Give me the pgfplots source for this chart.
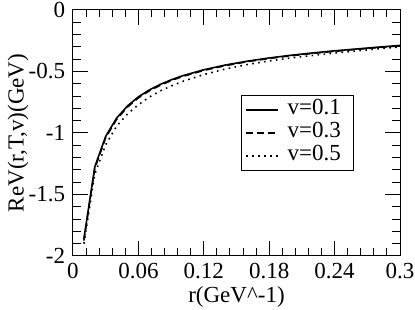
\documentclass[border=0pt]{standalone}
\usepackage{fontspec}
\setmainfont{Liberation Serif}
\usepackage{pgfplots}
\pgfplotsset{compat=1.18}
\begin{document}
\fontsize{23}{27}\selectfont
\begin{tikzpicture}
\useasboundingbox (-73pt,-54pt) rectangle (342pt,256pt);
\begin{axis}[
  scale only axis, width=327pt, height=246pt,
  xmin=0, xmax=0.3, ymin=-2, ymax=0,
  xtick={0,0.06,0.12,0.18,0.24,0.3},
  xticklabels={0,0.06,0.12,0.18,0.24,0.3},
  ytick={-2,-1.5,-1,-0.5,0},
  yticklabels={-2,-1.5,-1,-0.5,0},
  minor x tick num=4, minor y tick num=4,
  tick align=inside,
  major tick length=15pt, minor tick length=7.5pt,
  every tick/.style={black, line width=1pt},
  axis line style={line width=1pt},
  tick label style={font=\fontsize{23}{27}\selectfont},
  xticklabel style={yshift=1pt},
  label style={font=\fontsize{23}{27}\selectfont},
  xlabel={r(GeV\textasciicircum-1)},
  ylabel={ReV(r,T,v)(GeV)},
  xlabel style={at={(axis description cs:0.5,-0.167)}, anchor=center},
  ylabel style={at={(axis description cs:-0.168,0.5)}, anchor=center},
  legend style={at={(0.514,0.655)}, anchor=north west, draw=black, line width=1pt,
    font=\fontsize{23}{27}\selectfont, inner xsep=4pt, inner ysep=3pt, row sep=0pt,
    nodes={inner xsep=8.5pt, inner ysep=1pt, text height=15pt, text depth=6pt}},
  legend cell align=left,
  legend image code/.code={\draw[#1] (0pt,0pt) -- (32pt,0pt);},
]
\addplot[black, line width=1.6pt] coordinates {
(0.01,-1.86) (0.02,-1.275) (0.03,-1.027) (0.04,-0.879) (0.05,-0.780)
(0.06,-0.706) (0.07,-0.650) (0.08,-0.605) (0.09,-0.568) (0.10,-0.536)
(0.12,-0.486) (0.14,-0.447) (0.16,-0.416) (0.18,-0.390) (0.20,-0.368)
(0.22,-0.349) (0.24,-0.332) (0.26,-0.317) (0.28,-0.302) (0.30,-0.288)
};
\addlegendentry{v=0.1}
\addplot[black, line width=1.6pt, dash pattern=on 7pt off 4pt] coordinates {
(0.01,-1.875) (0.02,-1.287) (0.03,-1.038) (0.04,-0.889) (0.05,-0.789)
(0.06,-0.714) (0.07,-0.657) (0.08,-0.612) (0.09,-0.574) (0.10,-0.542)
(0.12,-0.491) (0.14,-0.452) (0.16,-0.420) (0.18,-0.394) (0.20,-0.372)
(0.22,-0.353) (0.24,-0.336) (0.26,-0.320) (0.28,-0.305) (0.30,-0.291)
};
\addlegendentry{v=0.3}
\addplot[black, line width=1.6pt, dash pattern=on 1.6pt off 4.4pt] coordinates {
(0.01,-1.90) (0.02,-1.335) (0.03,-1.095) (0.04,-0.945) (0.05,-0.845)
(0.06,-0.770) (0.07,-0.708) (0.08,-0.658) (0.09,-0.618) (0.10,-0.582)
(0.12,-0.525) (0.14,-0.479) (0.16,-0.443) (0.18,-0.414) (0.20,-0.390)
(0.22,-0.369) (0.24,-0.350) (0.26,-0.333) (0.28,-0.316) (0.30,-0.301)
};
\addlegendentry{v=0.5}
\end{axis}
\end{tikzpicture}
\end{document}
